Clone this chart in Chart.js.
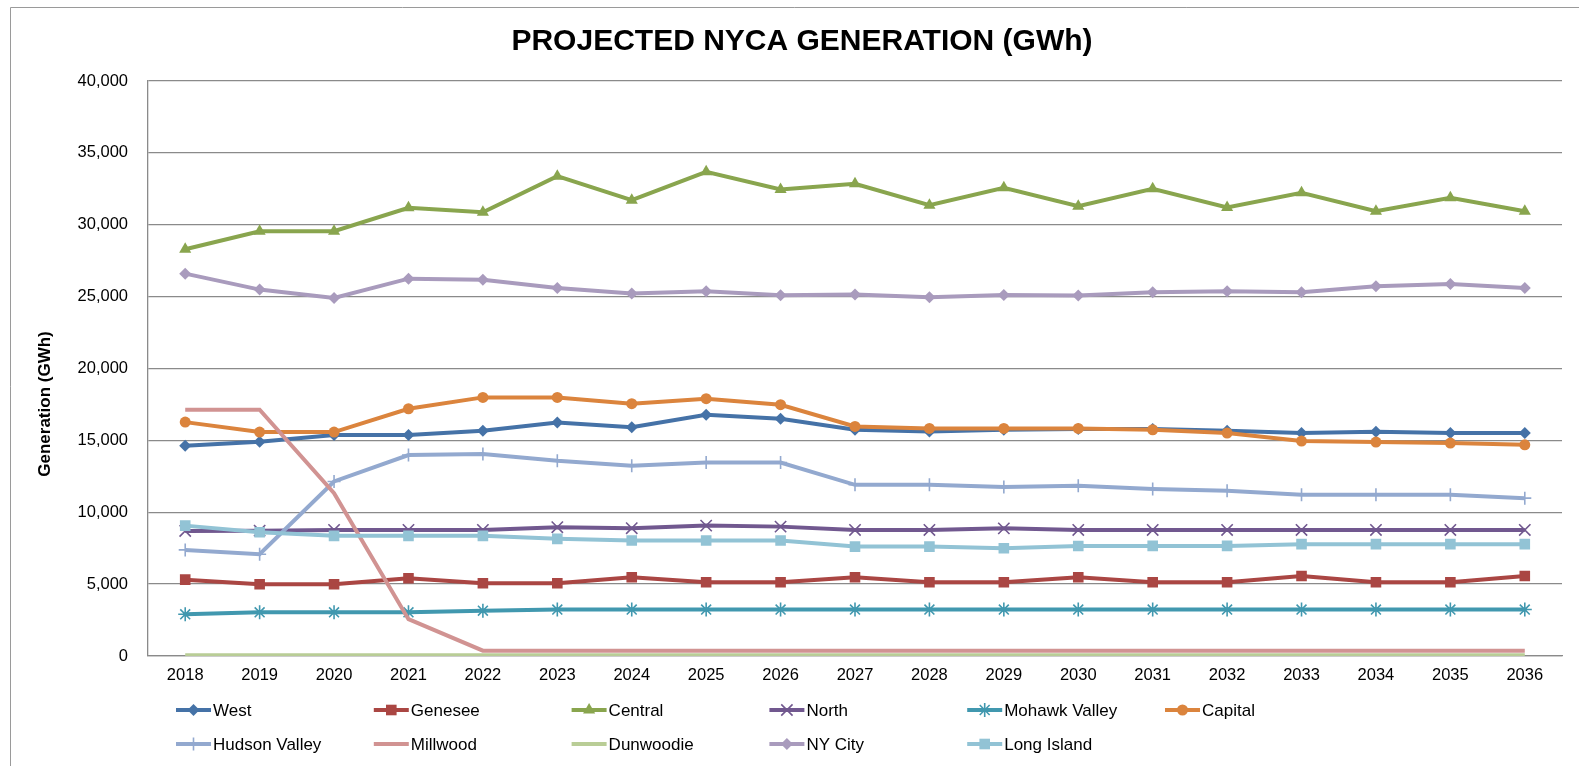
<!DOCTYPE html>
<html>
<head>
<meta charset="utf-8">
<script src="https://cdn.jsdelivr.net/npm/chart.js@4"></script>
<style>
  html, body { margin: 0; padding: 0; background: #fff; }
  #wrap { position: relative; width: 1579px; height: 766px; }
</style>
</head>
<body>
<div id="wrap"><canvas id="genChart" width="1579" height="766"></canvas></div>
<script>
// values (GWh)
const years = ['2018','2019','2020','2021','2022','2023','2024','2025','2026','2027','2028','2029','2030','2031','2032','2033','2034','2035','2036'];
const yTicks = [0, 5000, 10000, 15000, 20000, 25000, 30000, 35000, 40000];

const west = [14620, 14900, 15370, 15370, 15670, 16250, 15920, 16780, 16500, 15740, 15620, 15740, 15790, 15790, 15670, 15510, 15600, 15510, 15510];
const genesee = [5310, 4990, 4990, 5410, 5060, 5060, 5480, 5130, 5130, 5480, 5130, 5130, 5480, 5130, 5130, 5570, 5130, 5130, 5570];
const central = [28300, 29550, 29550, 31180, 30870, 33380, 31710, 33680, 32450, 32850, 31360, 32570, 31290, 32500, 31200, 32220, 30940, 31870, 30940];
const north = [8700, 8720, 8770, 8770, 8770, 8960, 8890, 9070, 9000, 8770, 8770, 8880, 8770, 8770, 8770, 8770, 8770, 8770, 8770];
const mohawkValley = [2900, 3040, 3040, 3040, 3150, 3230, 3230, 3230, 3230, 3230, 3230, 3230, 3230, 3230, 3230, 3230, 3230, 3230, 3230];
const capital = [16270, 15580, 15580, 17200, 17990, 17990, 17550, 17900, 17480, 15970, 15830, 15830, 15830, 15740, 15510, 14950, 14880, 14810, 14690];
const hudsonValley = [7380, 7080, 12140, 13980, 14050, 13580, 13230, 13460, 13460, 11910, 11910, 11750, 11840, 11610, 11490, 11210, 11210, 11210, 10980];
const millwood = [17130, 17130, 11330, 2560, 370, 370, 370, 370, 370, 370, 370, 370, 370, 370, 370, 370, 370, 370, 370];
const dunwoodie = [60, 60, 60, 60, 60, 60, 60, 60, 60, 60, 60, 60, 60, 60, 60, 60, 60, 60, 60];
const nyCity = [26600, 25490, 24910, 26250, 26180, 25600, 25210, 25370, 25090, 25140, 24950, 25120, 25070, 25300, 25370, 25300, 25720, 25880, 25600];
const longIsland = [9070, 8610, 8360, 8360, 8360, 8150, 8030, 8030, 8030, 7610, 7610, 7500, 7650, 7660, 7660, 7780, 7780, 7780, 7780];

const FONT = "'Liberation Sans', Arial, sans-serif";
const GRID = '#8a8a8a';

function series(label, data, color, style, radius, filled) {
    return {
        label: label,
        data: data,
        borderColor: color,
        backgroundColor: color,
        borderWidth: 4,
        pointStyle: style,
        pointRadius: radius,
        pointHoverRadius: radius,
        pointBackgroundColor: filled ? color : 'transparent',
        pointBorderColor: color,
        pointBorderWidth: filled ? 0 : 1.6,
        tension: 0
    };
}

const datasets = [
    series('West', west, '#4572A7', 'rectRot', 6, true),
    series('Genesee', genesee, '#AA4643', 'rect', 7.5, true),
    series('Central', central, '#89A54E', 'triangle', 7, true),
    series('North', north, '#71588F', 'crossRot', 8, false),
    series('Mohawk Valley', mohawkValley, '#4198AF', 'star', 7, false),
    series('Capital', capital, '#DB843D', 'circle', 5.5, true),
    series('Hudson Valley', hudsonValley, '#93A9CF', 'cross', 6.5, false),
    series('Millwood', millwood, '#D19392', 'line', 0, true),
    series('Dunwoodie', dunwoodie, '#B9CD96', 'line', 0, true),
    series('NY City', nyCity, '#A99BBD', 'rectRot', 6, true),
    series('Long Island', longIsland, '#92C3D5', 'rect', 7.5, true)
];
// later series sit on top, like the spreadsheet
datasets.forEach(function(d, i) { d.order = datasets.length - i; });

// title, axis title, legend and frame
const decorations = {
    id: 'decorations',
    beforeDraw: function(chart) {
        const ctx = chart.ctx;
        ctx.save();
        ctx.strokeStyle = '#9a9a9a';
        ctx.lineWidth = 1;
        ctx.beginPath();
        ctx.moveTo(10.5, 766);
        ctx.lineTo(10.5, 7.5);
        ctx.lineTo(1579, 7.5);
        ctx.stroke();
        ctx.restore();
    },
    afterDraw: function(chart) {
        const ctx = chart.ctx;
        ctx.save();
        ctx.fillStyle = '#000';
        ctx.textAlign = 'center';
        ctx.textBaseline = 'middle';
        ctx.font = 'bold 30px ' + FONT;
        ctx.fillText('PROJECTED NYCA GENERATION (GWh)', 802, 42);

        ctx.save();
        ctx.translate(45, 404);
        ctx.rotate(-Math.PI / 2);
        ctx.font = 'bold 17px ' + FONT;
        ctx.fillText('Generation (GWh)', 0, 0);
        ctx.restore();

        ctx.textAlign = 'left';
        ctx.font = '17px ' + FONT;
        chart.data.datasets.forEach(function(ds, i) {
            const col = i % 6, row = Math.floor(i / 6);
            const x0 = 176 + col * 197.8;
            const y = 710 + row * 34;
            ctx.strokeStyle = ds.borderColor;
            ctx.lineWidth = 4;
            ctx.beginPath();
            ctx.moveTo(x0, y);
            ctx.lineTo(x0 + 35, y);
            ctx.stroke();
            if (ds.pointRadius > 0) {
                ctx.fillStyle = ds.pointBackgroundColor;
                ctx.strokeStyle = ds.pointBorderColor;
                ctx.lineWidth = ds.pointBorderWidth;
                Chart.helpers.drawPoint(ctx, {
                    pointStyle: ds.pointStyle,
                    radius: ds.pointRadius,
                    borderWidth: ds.pointBorderWidth,
                    rotation: 0
                }, x0 + 17.5, y);
            }
            ctx.fillStyle = '#000';
            ctx.fillText(ds.label, x0 + 37, y + 1);
        });
        ctx.restore();
    }
};

const ctx = document.getElementById('genChart').getContext('2d');
const genChart = new Chart(ctx, {
    type: 'line',
    data: {
        labels: years,
        datasets: datasets
    },
    options: {
        responsive: false,
        animation: false,
        layout: { padding: { left: 12, right: 17, top: 81, bottom: 70 } },
        plugins: {
            legend: { display: false },
            title: { display: false },
            tooltip: { enabled: false }
        },
        scales: {
            x: {
                offset: true,
                grid: { display: false, drawTicks: false },
                border: { display: true, color: GRID, width: 1.3 },
                ticks: {
                    color: '#000',
                    font: { family: FONT, size: 16.5 },
                    padding: 10,
                    maxRotation: 0,
                    autoSkip: false
                },
                afterFit: function(scale) { scale.height = 40; }
            },
            y: {
                min: 0,
                max: 40000,
                afterBuildTicks: function(scale) {
                    scale.ticks = yTicks.map(function(v) { return { value: v }; });
                },
                grid: { color: GRID, lineWidth: 1.3, drawTicks: false },
                border: { display: true, color: GRID, width: 1.3 },
                ticks: {
                    color: '#000',
                    font: { family: FONT, size: 16.5 },
                    padding: 20,
                    callback: function(v) { return Number(v).toLocaleString('en-US'); }
                },
                afterFit: function(scale) { scale.width = 136; }
            }
        }
    },
    plugins: [decorations]
});
</script>
</body>
</html>
